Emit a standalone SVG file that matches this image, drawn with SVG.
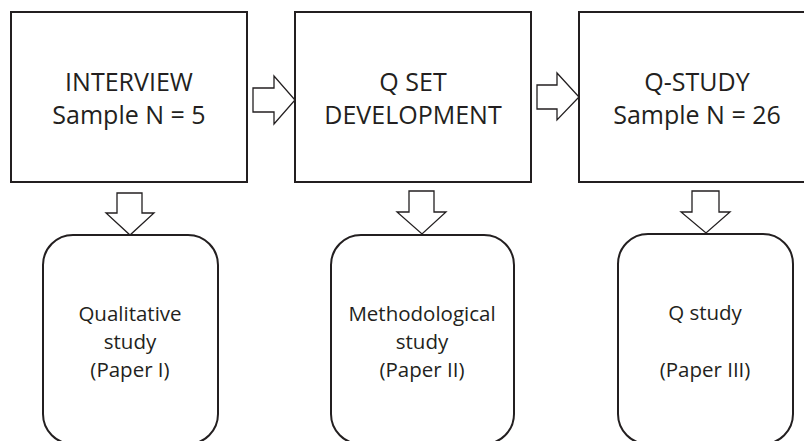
<svg xmlns="http://www.w3.org/2000/svg" width="804" height="441" viewBox="0 0 804 441">
<style>
.box{fill:#fff;stroke:#231f20;stroke-width:2}
.arr{fill:#fff;stroke:#231f20;stroke-width:1.3;stroke-linejoin:miter}
.t1{font-family:"Open Sans","Liberation Sans",sans-serif;font-size:25px;fill:#231f20;text-anchor:middle}
.t2{font-family:"Open Sans","Liberation Sans",sans-serif;font-size:20.5px;fill:#231f20;text-anchor:middle}
</style>
<rect width="804" height="441" fill="#fff"/>
<g id="interview">
<rect class="box" x="11" y="12" width="236" height="170"/>
<text class="t1" x="129" y="91">INTERVIEW</text>
<text class="t1" x="129" y="124">Sample N = 5</text>
</g>
<g id="qset">
<rect class="box" x="295" y="12" width="236" height="170"/>
<text class="t1" x="413" y="91">Q SET</text>
<text class="t1" x="413" y="124">DEVELOPMENT</text>
</g>
<g id="qstudy">
<rect class="box" x="579" y="12" width="236" height="170"/>
<text class="t1" x="697" y="91">Q-STUDY</text>
<text class="t1" x="697" y="124">Sample N = 26</text>
</g>
<g id="paper1">
<rect class="box" x="43" y="235" width="175" height="209" rx="30" ry="30"/>
<text class="t2" x="130" y="321">Qualitative</text>
<text class="t2" x="130" y="349">study</text>
<text class="t2" x="130" y="377">(Paper I)</text>
</g>
<g id="paper2">
<rect class="box" x="331" y="235" width="183" height="209" rx="30" ry="30"/>
<text class="t2" x="422" y="321">Methodological</text>
<text class="t2" x="422" y="349">study</text>
<text class="t2" x="422" y="377">(Paper II)</text>
</g>
<g id="paper3">
<rect class="box" x="618" y="234" width="175" height="210" rx="30" ry="30"/>
<text class="t2" x="705" y="320">Q study</text>
<text class="t2" x="705" y="377">(Paper III)</text>
</g>
<g id="connectors">
<polygon class="arr" points="253,88 274,88 274,76 295,100 274,124 274,112 253,112"/>
<polygon class="arr" points="537,85 557,85 557,73 579,97 557,120 557,109 537,109"/>
<polygon class="arr" points="117,193 142,193 142,213 154,213 130,235 106,213 117,213"/>
<polygon class="arr" points="409,191 434,191 434,212 446,212 422,234 397,212 409,212"/>
<polygon class="arr" points="692,191 719,191 719,212 730,212 706,233 681,212 692,212"/>
</g>
</svg>
